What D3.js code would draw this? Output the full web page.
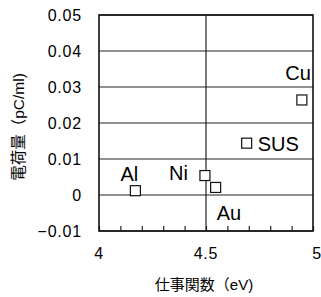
<!DOCTYPE html>
<html>
<head>
<meta charset="utf-8">
<script src="https://cdn.jsdelivr.net/npm/d3@7"></script>
<style>
  body { margin: 0; background: #fff; }
  text { font-family: "Liberation Sans", Arial, "Noto Sans CJK JP", sans-serif; fill: #000; }
  .cjk { font-family: "Liberation Sans", "Noto Sans CJK JP", sans-serif; }
</style>
</head>
<body>
<div id="chart"></div>
<script>
// data
var metals = ["Al", "Ni", "Au", "SUS", "Cu"];
var workFunction = [4.17, 4.495, 4.545, 4.69, 4.948];   // eV
var charge = [0.0012, 0.0054, 0.0021, 0.0144, 0.0264];  // pC/ml
var xTicks = [4, 4.5, 5];
var yTicks = [-0.01, 0, 0.01, 0.02, 0.03, 0.04, 0.05];
var xLabel = "仕事関数（eV)";
var yLabel = "電荷量（pC/ml)";

// set the dimensions of the graph
var W = 321, H = 297;
var plot = {left: 99, right: 313, top: 15, bottom: 231};

var x = d3.scaleLinear().domain([4, 5]).range([plot.left, plot.right]);
var y = d3.scaleLinear().domain([-0.01, 0.05]).range([plot.bottom, plot.top]);

var svg = d3.select("#chart").append("svg")
    .attr("width", W)
    .attr("height", H);

// horizontal grid lines
svg.append("g")
  .selectAll("line")
  .data(yTicks)
  .enter().append("line")
    .attr("x1", plot.left).attr("x2", plot.right)
    .attr("y1", function(d) { return y(d); })
    .attr("y2", function(d) { return y(d); })
    .style("stroke", "#222")
    .style("stroke-width", 1);

// vertical line at 4.5
svg.append("line")
    .attr("x1", x(4.5)).attr("x2", x(4.5))
    .attr("y1", plot.top).attr("y2", plot.bottom)
    .style("stroke", "#222")
    .style("stroke-width", 1.2);

// minor ticks along the bottom (inside)
var xAxis = svg.append("g")
    .attr("transform", "translate(0," + plot.bottom + ")")
    .call(d3.axisTop(x).ticks(10).tickSize(5).tickFormat(""));
xAxis.select(".domain").remove();
xAxis.selectAll("line").style("stroke", "#222").style("stroke-width", 1.2);

// frame
svg.append("rect")
    .attr("x", plot.left).attr("y", plot.top)
    .attr("width", plot.right - plot.left)
    .attr("height", plot.bottom - plot.top)
    .style("fill", "none")
    .style("stroke", "#111")
    .style("stroke-width", 1.6);

// y tick labels
svg.append("g")
  .selectAll("text")
  .data(yTicks)
  .enter().append("text")
    .attr("x", 82)
    .attr("y", function(d) { return y(d) + 6; })
    .attr("text-anchor", "end")
    .style("font-size", "16px")
    .style("letter-spacing", "0.8px")
    .text(function(d) { return d === 0 ? "0" : d3.format(".2f")(d); });

// x tick labels
svg.append("g")
  .selectAll("text")
  .data(xTicks)
  .enter().append("text")
    .attr("x", function(d) { return x(d) + (d === 5 ? 4 : 0); })
    .attr("y", 259)
    .attr("text-anchor", "middle")
    .style("font-size", "16px")
    .style("letter-spacing", "0.8px")
    .text(function(d) { return d; });

// axis titles
svg.append("text")
    .attr("class", "cjk")
    .attr("x", 204)
    .attr("y", 290)
    .attr("text-anchor", "middle")
    .style("font-size", "15px")
    .text(xLabel);

svg.append("text")
    .attr("class", "cjk")
    .attr("transform", "translate(24,127) rotate(-90)")
    .attr("text-anchor", "middle")
    .style("font-size", "15.5px")
    .text(yLabel);

// points
var pts = metals.map(function(m, i) {
  return {name: m, x: workFunction[i], y: charge[i]};
});

var sq = 10;
svg.append("g")
  .selectAll("rect")
  .data(pts)
  .enter().append("rect")
    .attr("x", function(d) { return x(d.x) - sq / 2; })
    .attr("y", function(d) { return y(d.y) - sq / 2; })
    .attr("width", sq)
    .attr("height", sq)
    .style("fill", "#fff")
    .style("stroke", "#111")
    .style("stroke-width", 1.2);

// point labels, offset from the square
var labelPos = {
  Al:  {dx: -6,  dy: -10, anchor: "middle"},
  Ni:  {dx: -17, dy: 4.5, anchor: "end"},
  Au:  {dx: 1,   dy: 32.5, anchor: "start"},
  SUS: {dx: 11,  dy: 8,  anchor: "start"},
  Cu:  {dx: 9,   dy: -20, anchor: "end"}
};

svg.append("g")
  .selectAll("text")
  .data(pts)
  .enter().append("text")
    .attr("x", function(d) { return x(d.x) + labelPos[d.name].dx; })
    .attr("y", function(d) { return y(d.y) + labelPos[d.name].dy; })
    .attr("text-anchor", function(d) { return labelPos[d.name].anchor; })
    .style("font-size", "20px")
    .text(function(d) { return d.name; });
</script>
</body>
</html>
